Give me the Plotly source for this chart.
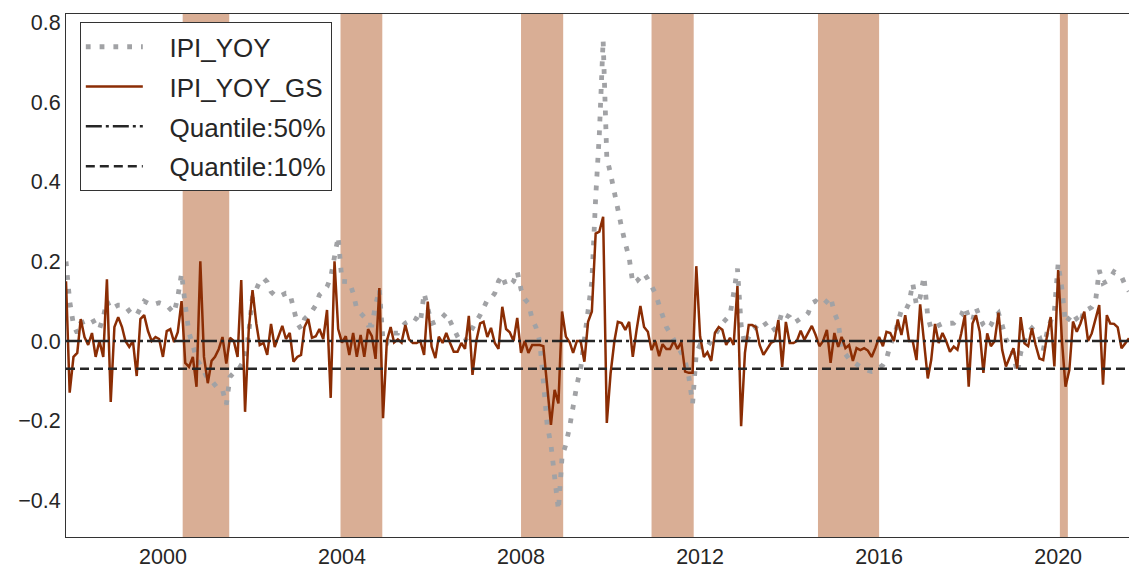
import pandas as pd
import plotly.graph_objects as go

start_month = "1997-11-01"

# IPI year-over-year (monthly, 1997-11 .. 2021-08)
ipi_yoy = [
    0.20, 0.10,
    0.04, 0.02, 0.045, 0.05, 0.055, 0.057, 0.04, 0.03, 0.06, 0.10, 0.08, 0.085,
    0.09, 0.09, 0.088, 0.075, 0.065, 0.065, 0.085, 0.10, 0.095, 0.09, 0.093, 0.096,
    0.093, 0.09, 0.08, 0.07, 0.11, 0.17, 0.09, 0.02, -0.01, -0.045, -0.06, -0.075,
    -0.095, -0.10, -0.11, -0.123, -0.123, -0.16, -0.09, -0.08, -0.075, -0.06, -0.045, 0.02,
    0.11, 0.13, 0.15, 0.158, 0.148, 0.124, 0.115, 0.111, 0.115, 0.12, 0.12, 0.08,
    0.045, 0.03, 0.055, 0.065, 0.075, 0.09, 0.116, 0.125, 0.136, 0.16, 0.22, 0.262,
    0.15, 0.15, 0.149, 0.12, 0.08, 0.07, 0.06, 0.04, 0.04, 0.09, 0.13, 0.0,
    -0.005, 0.02, 0.02, 0.02, 0.035, 0.045, 0.05, 0.06, 0.055, 0.045, 0.12, 0.08,
    0.044, 0.048, 0.05, 0.06, 0.07, 0.05, 0.03, 0.011, -0.004, 0.0, 0.015, 0.035,
    0.05, 0.065, 0.085, 0.103, 0.107, 0.12, 0.15, 0.165, 0.138, 0.14, 0.15, 0.175,
    0.13, 0.105, 0.095, 0.055, 0.035, 0.0, -0.1, -0.21, -0.26, -0.33, -0.425, -0.29,
    -0.26, -0.215, -0.16, -0.11, -0.07, 0.0, 0.08, 0.15, 0.36, 0.52, 0.756, 0.46,
    0.42, 0.37, 0.325, 0.285, 0.245, 0.21, 0.145, 0.15, 0.16, 0.17, 0.155, 0.14,
    0.12, 0.09, 0.06, 0.035, 0.02, 0.005, -0.01, -0.03, -0.05, -0.09, -0.157, -0.03,
    -0.01, -0.012, -0.014, 0.0, 0.015, 0.035, 0.045, 0.055, 0.065, 0.12, 0.182, 0.04,
    -0.01, 0.01, 0.028, 0.035, 0.045, 0.05, 0.035, 0.023, 0.03, 0.04, 0.074, 0.065,
    0.06, 0.045, 0.05, 0.057, 0.06, 0.07, 0.095, 0.1, 0.093, 0.09, 0.1, 0.111,
    0.07, 0.048, -0.02, -0.035, -0.045, -0.052, -0.06, -0.065, -0.07, -0.072, -0.077, -0.075,
    -0.068, -0.06, -0.045, -0.01, 0.01, 0.04, 0.078, 0.075, 0.095, 0.145, 0.09, 0.11,
    0.162, 0.061, 0.03, 0.035, 0.04, 0.044, 0.044, 0.044, 0.045, 0.055, 0.065, 0.086,
    0.06, 0.05, 0.084, 0.06, 0.04, 0.03, 0.04, 0.06, 0.07, 0.04, 0.005, -0.01,
    -0.03, -0.081, -0.03, 0.0, 0.02, 0.032, 0.02, 0.011, -0.023, 0.02, 0.05, 0.075,
    0.195, 0.13, 0.045, 0.06, 0.07, 0.055, 0.044, 0.08, 0.08, 0.085, 0.1, 0.178,
    0.145, 0.15, 0.158, 0.174, 0.168, 0.162, 0.14, 0.125,
]

# IPI year-over-year, GS version
ipi_yoy_gs = [
    0.15, -0.13,
    -0.04, -0.03, 0.055, 0.01, -0.01, 0.02, -0.04, 0.0, -0.04, 0.155, -0.153, 0.035,
    0.06, 0.035, 0.0, -0.015, 0.0, -0.088, 0.055, 0.065, 0.025, 0.0, 0.01, 0.005,
    -0.04, 0.025, 0.03, -0.003, 0.022, 0.10, -0.055, -0.065, -0.04, -0.115, 0.2, -0.04,
    -0.106, -0.05, -0.04, -0.02, 0.01, -0.057, 0.008, 0.0, -0.04, 0.153, -0.178, 0.028,
    0.128, 0.044, -0.01, -0.005, -0.035, 0.043, -0.015, 0.011, 0.038, 0.005, 0.02, -0.052,
    -0.04, -0.035, 0.035, 0.055, 0.008, 0.012, 0.03, 0.005, 0.078, -0.143, 0.2, 0.03,
    -0.004, 0.012, -0.035, 0.02, -0.04, 0.015, -0.04, 0.03, 0.012, -0.045, 0.133, -0.194,
    0.0, 0.035, -0.004, 0.004, -0.004, 0.04, 0.004, -0.005, -0.005, 0.0, -0.035, 0.099,
    -0.014, -0.043, 0.011, -0.005, 0.02, -0.005, -0.027, -0.027, -0.005, -0.02, 0.063, -0.085,
    0.0, 0.044, 0.048, 0.01, 0.033, -0.005, -0.02, 0.086, 0.03, 0.022, 0.0, 0.058,
    -0.03, 0.0, -0.03, -0.01, -0.01, -0.01, -0.013, -0.12, -0.211, -0.123, -0.157, 0.074,
    0.011, -0.003, -0.03, 0.0, 0.0, -0.052, 0.048, 0.074, 0.27, 0.275, 0.312, -0.206,
    -0.081, 0.0, 0.048, 0.045, 0.028, 0.048, -0.04, 0.028, 0.088, 0.035, 0.023, -0.023,
    0.0, -0.038, -0.008, -0.02, -0.02, 0.0, -0.02, -0.003, -0.077, -0.08, -0.08, 0.188,
    0.012, -0.04, -0.028, -0.05, 0.02, 0.035, 0.028, -0.01, 0.008, -0.01, 0.138, -0.214,
    -0.03, 0.04, 0.04, 0.035, -0.01, -0.035, -0.02, -0.005, 0.0, 0.053, -0.065, 0.048,
    -0.005, -0.005, 0.0, 0.026, 0.003, 0.02, 0.038, 0.015, -0.013, 0.0, 0.028, -0.055,
    0.02, -0.015, 0.01, -0.018, -0.01, -0.05, -0.018, -0.023, -0.018, -0.024, -0.04, -0.018,
    0.01, -0.013, 0.023, 0.02, 0.0, 0.054, 0.015, 0.065, 0.0, 0.0, -0.048, 0.092,
    0.0, -0.094, -0.048, 0.043, -0.005, 0.02, 0.0, -0.027, -0.014, -0.022, 0.019, 0.065,
    -0.115, 0.044, 0.065, 0.023, -0.08, 0.019, -0.013, 0.0, 0.071, -0.022, -0.064, -0.04,
    -0.018, -0.069, 0.06, -0.006, -0.013, 0.032, -0.01, -0.044, -0.048, 0.011, 0.06, -0.064,
    0.178, 0.0, -0.115, -0.073, 0.049, 0.023, 0.044, 0.074, 0.0, 0.019, 0.053, 0.09,
    -0.11, 0.065, 0.044, 0.043, 0.034, -0.018, -0.006, 0.007,
]

quantile_50 = 0.0
quantile_10 = -0.07

shade_starts = ["2000-06-10", "2003-12-20", "2008-01-01", "2010-12-01", "2014-08-20", "2020-01-15"]
shade_ends = ["2001-06-25", "2004-11-25", "2008-12-10", "2011-11-10", "2016-01-01", "2020-03-20"]

x_tick_years = [2000, 2004, 2008, 2012, 2016, 2020]
y_ticks = [-0.4, -0.2, 0.0, 0.2, 0.4, 0.6, 0.8]
y_range = [-0.4925, 0.8216]

n = min(len(ipi_yoy), len(ipi_yoy_gs))
dates = pd.date_range(start_month, periods=n, freq="MS")

TEXT = "#262626"
FONT = "Liberation Sans, Arial, sans-serif"
PAD = "\u00a0\u00a0\u00a0"

fig = go.Figure()

fig.add_trace(go.Scatter(
    x=dates, y=ipi_yoy[:n], mode="lines", name=PAD + "IPI_YOY",
    line=dict(color="#a1a2a5", width=4.8, dash="4.8px,9px"),
    legendgroup="a",
))
fig.add_trace(go.Scatter(
    x=dates, y=ipi_yoy_gs[:n], mode="lines", name=PAD + "IPI_YOY_GS",
    line=dict(color="#8b2d04", width=2.5),
    legendgroup="b",
))
fig.add_trace(go.Scatter(
    x=[dates[0], dates[-1]], y=[quantile_50, quantile_50], mode="lines",
    name=PAD + "Quantile:50%",
    line=dict(color=TEXT, width=2.5, dash="16px,4px,3px,4px"),
    legendgroup="c",
))
fig.add_trace(go.Scatter(
    x=[dates[0], dates[-1]], y=[quantile_10, quantile_10], mode="lines",
    name=PAD + "Quantile:10%",
    line=dict(color=TEXT, width=2.5, dash="9px,5px"),
    legendgroup="d",
))

for s, e in zip(shade_starts, shade_ends):
    fig.add_shape(type="rect", xref="x", yref="paper", x0=s, x1=e, y0=0, y1=1,
                  fillcolor="#d9ae95", line=dict(width=0), layer="below")

fig.update_layout(
    width=1129, height=568,
    margin=dict(l=66, r=0, t=14, b=31),
    paper_bgcolor="white", plot_bgcolor="white",
    font=dict(family=FONT, color=TEXT, size=21),
    showlegend=True,
    legend=dict(
        x=0.013, y=0.984, xanchor="left", yanchor="top",
        bgcolor="white", bordercolor="#333333", borderwidth=1,
        font=dict(size=26, family=FONT, color=TEXT),
        itemwidth=57, tracegroupgap=3, traceorder="grouped",
    ),
    xaxis=dict(
        range=[dates[0], dates[-1]],
        tickvals=[pd.Timestamp(f"{y}-01-01") for y in x_tick_years],
        ticktext=[str(y) for y in x_tick_years],
        showgrid=False, zeroline=False, showline=True, linecolor="#333333",
        linewidth=1, mirror=True, ticks="", tickfont=dict(size=21.5),
    ),
    yaxis=dict(
        range=y_range,
        tickvals=y_ticks,
        ticktext=[("\u2212" if v < 0 else "") + f"{abs(v):.1f}" for v in y_ticks],
        showgrid=False, zeroline=False, showline=True, linecolor="#333333",
        linewidth=1, mirror=True, ticks="", tickfont=dict(size=21.5),
    ),
)

fig.write_html(
    "out.html",
    config={"displayModeBar": False},
    post_script="document.body.style.margin='0';document.body.style.overflow='hidden';",
)
